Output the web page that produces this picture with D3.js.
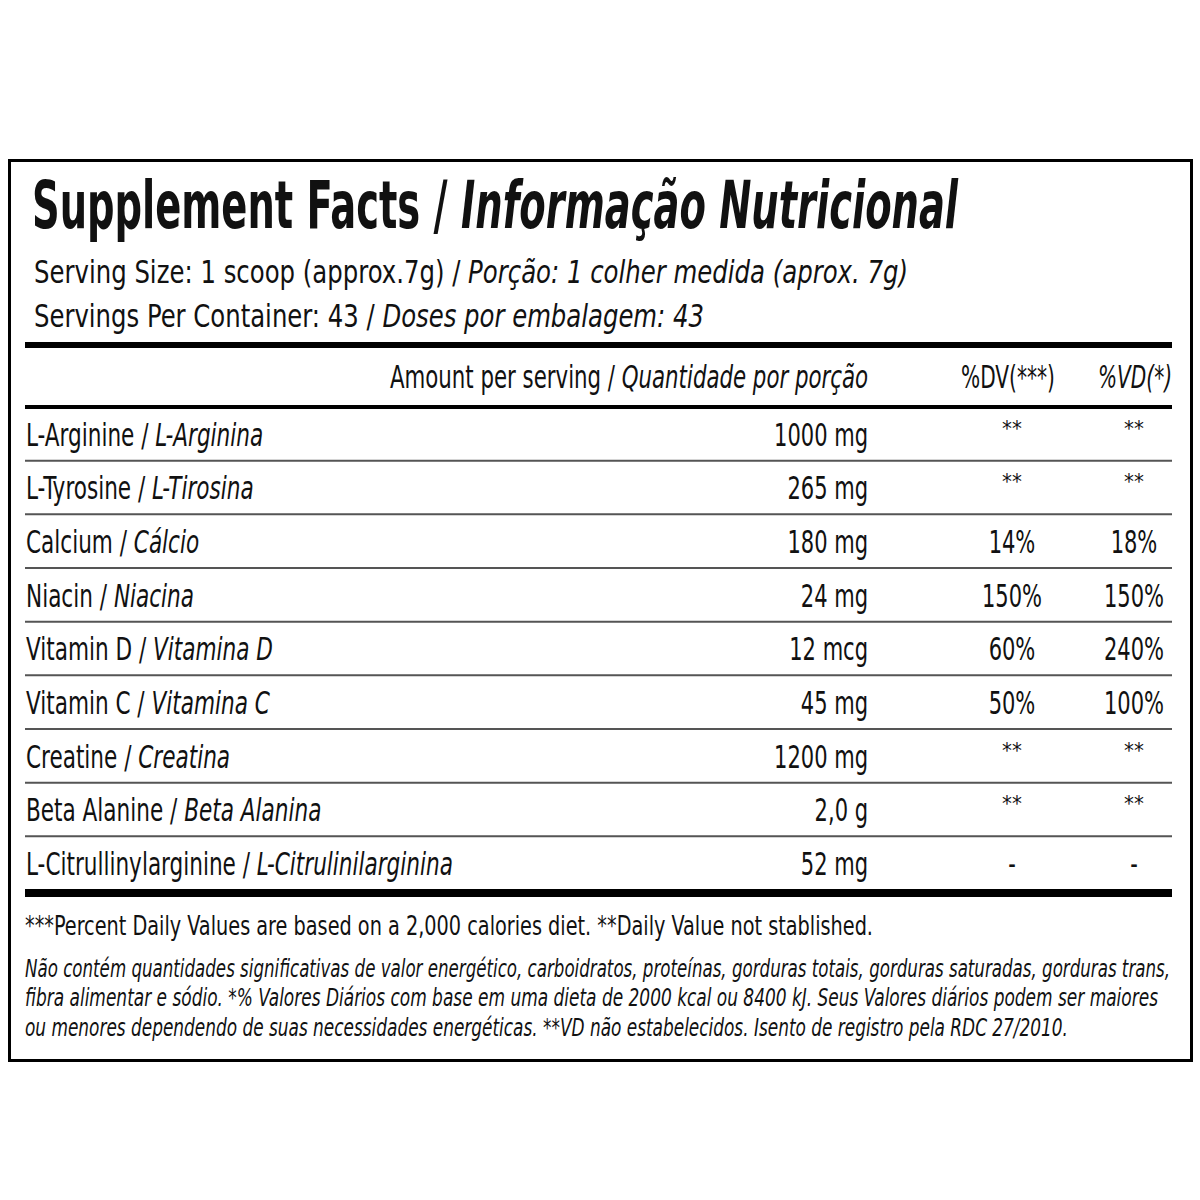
<!DOCTYPE html><html><head><meta charset="utf-8">
<script src="https://cdn.jsdelivr.net/npm/d3@7"></script>
<style>body{margin:0;background:#fff}</style></head><body>
<script>
const namesEn=["L-Arginine","L-Tyrosine","Calcium","Niacin","Vitamin D","Vitamin C","Creatine","Beta Alanine","L-Citrullinylarginine"];
const namesPt=["L-Arginina","L-Tirosina","Cálcio","Niacina","Vitamina D","Vitamina C","Creatina","Beta Alanina","L-Citrulinilarginina"];
const amounts=["1000 mg","265 mg","180 mg","24 mg","12 mcg","45 mg","1200 mg","2,0 g","52 mg"];
const dv=["**","**","14%","150%","60%","50%","**","**","-"];
const vd=["**","**","18%","150%","240%","100%","**","**","-"];
const F='"Liberation Sans Narrow","DejaVu Sans Condensed","Liberation Sans",sans-serif';
const svg=d3.select("body").append("svg").attr("width",1200).attr("height",1200).style("font-family",F);
svg.append("rect").attr("x",9.5).attr("y",160.5).attr("width",1182).attr("height",900).attr("fill","none").attr("stroke","#000").attr("stroke-width",3);
function txt(x,y,parts,size,opts={}){
  const g=svg.append("g").attr("transform",`translate(${x},${y}) scale(${opts.sx||1},1)`);
  const t=g.append("text").attr("x",0).attr("y",0).attr("font-size",size).attr("fill","#111");
  if(opts.anchor)t.attr("text-anchor",opts.anchor);
  if(opts.len)t.attr("textLength",opts.len).attr("lengthAdjust","spacingAndGlyphs");
  if(opts.weight)t.attr("font-weight",opts.weight);
  parts.forEach(p=>t.append("tspan").text(p[0]).attr("font-style",p[1]?"italic":"normal"));
  return t;
}
txt(32,228,[["Supplement Facts / ",0],["Informação Nutricional",1]],66,{len:926,weight:"bold"});
txt(34,283,[["Serving Size: 1 scoop (approx.7g) / ",0],["Porção: 1 colher medida (aprox. 7g)",1]],32,{len:874});
txt(34,327,[["Servings Per Container: 43 / ",0],["Doses por embalagem: 43",1]],32,{len:670});
svg.append("line").attr("x1",25).attr("x2",1172).attr("y1",345).attr("y2",345).attr("stroke","#000").attr("stroke-width",6);
txt(868,388,[["Amount per serving / ",0],["Quantidade por porção",1]],32,{anchor:"end",len:478});
txt(1008,388,[["%DV(***)",0]],32,{anchor:"middle",sx:0.7});
txt(1135,388,[["%VD(*)",1]],32,{anchor:"middle",sx:0.7});
svg.append("line").attr("x1",25).attr("x2",1172).attr("y1",407).attr("y2",407).attr("stroke","#000").attr("stroke-width",4);
const y=d3.scaleBand().domain(d3.range(namesEn.length)).range([407,890]);
namesEn.forEach((n,i)=>{
  const by=y(i)+y.bandwidth()*0.72;
  txt(26,by,[[n+" / ",0],[namesPt[i],1]],32,{sx:0.75});
  txt(868,by,[[amounts[i],0]],32,{anchor:"end",sx:0.73});
  const star=dv[i]==="**";
  txt(1012,star?by-10:by,[[dv[i],0]],star?22:32,{anchor:"middle",sx:star?1:0.73});
  txt(1134,star?by-10:by,[[vd[i],0]],star?22:32,{anchor:"middle",sx:star?1:0.73});
  if(i<namesEn.length-1)svg.append("line").attr("x1",25).attr("x2",1172).attr("y1",y(i)+y.bandwidth()).attr("y2",y(i)+y.bandwidth()).attr("stroke","#555").attr("stroke-width",2);
});
svg.append("line").attr("x1",25).attr("x2",1172).attr("y1",893).attr("y2",893).attr("stroke","#000").attr("stroke-width",8);
txt(25,935,[["***Percent Daily Values are based on a 2,000 calories diet. **Daily Value not stablished.",0]],26,{len:848});
txt(25,977,[["Não contém quantidades significativas de valor energético, carboidratos, proteínas, gorduras totais, gorduras saturadas, gorduras trans,",1]],24,{len:1145});
txt(25,1006,[["fibra alimentar e sódio. *% Valores Diários com base em uma dieta de 2000 kcal ou 8400 kJ. Seus Valores diários podem ser maiores",1]],24,{len:1133});
txt(25,1036,[["ou menores dependendo de suas necessidades energéticas. **VD não estabelecidos. Isento de registro pela RDC 27/2010.",1]],24,{len:1043});
</script></body></html>
